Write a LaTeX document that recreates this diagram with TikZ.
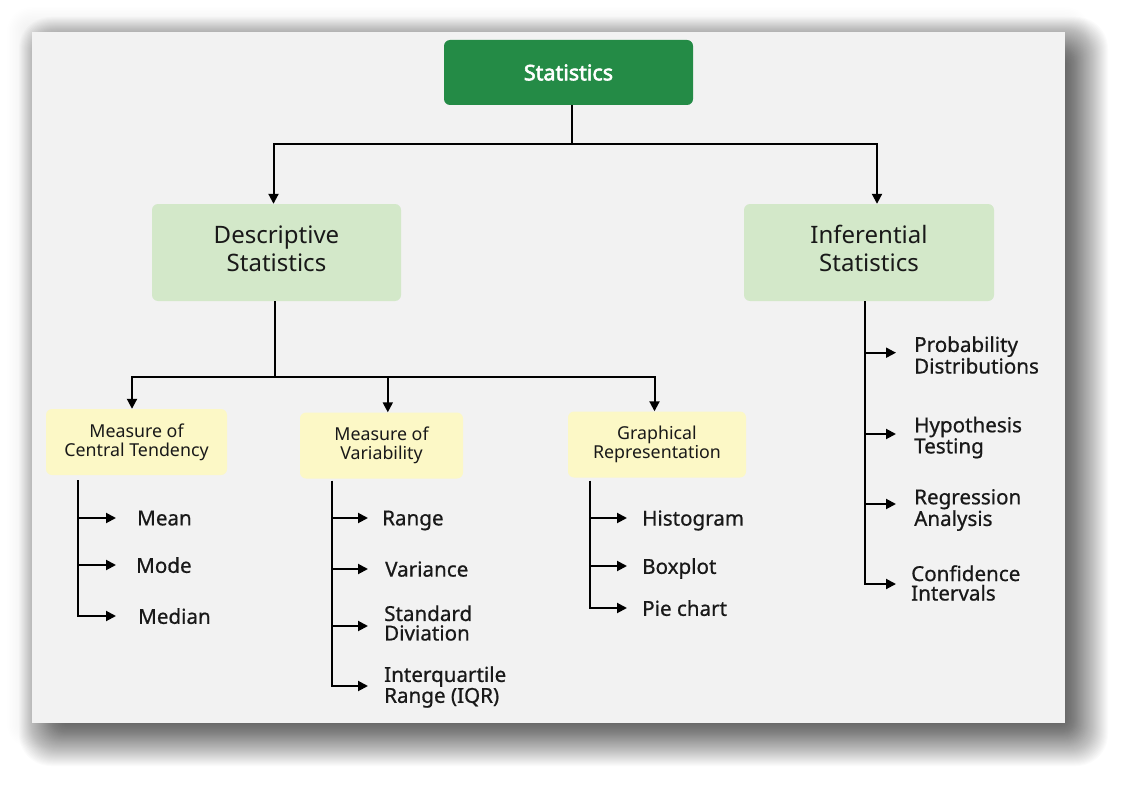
\documentclass[tikz,border=0pt]{standalone}
\usepackage{fontspec}
\setmainfont{Noto Sans}
\newfontfamily\medfont{Noto Sans}[FakeBold=0.7]
\newfontfamily\heavyfont{Noto Sans}[FakeBold=2.6]
\usetikzlibrary{arrows.meta,calc}
\definecolor{dgreen}{RGB}{36,139,70}
\definecolor{lgreen}{RGB}{211,232,201}
\definecolor{pyellow}{RGB}{252,248,198}
\definecolor{panelbg}{RGB}{242,242,242}
\definecolor{txt}{RGB}{25,25,25}
\newcommand\lowstrut[1]{\rule[-#1]{0pt}{#1}}
\tikzset{
  rootbox/.style={fill=dgreen, rounded corners=6pt, minimum width=249pt, minimum height=65pt, inner sep=0pt, text=white, font=\heavyfont\fontsize{21.5}{24}\selectfont},
  catbox/.style={fill=lgreen, rounded corners=6pt, minimum width=249pt, minimum height=97pt, inner sep=0pt, align=center, text=txt, font=\fontsize{24}{28.5}\selectfont},
  subbox/.style={fill=pyellow, rounded corners=6pt, minimum height=66pt, inner sep=0pt, align=center, text=txt, font=\fontsize{17.8}{19}\selectfont},
  leafone/.style={anchor=west, inner sep=0pt, text=txt, text depth=0pt, font=\medfont\fontsize{20.6}{19.5}\selectfont},
  leaftwo/.style={anchor=west, inner sep=0pt, align=left, text=txt, font=\medfont\fontsize{20.6}{19.5}\selectfont},
  conn/.style={line width=2pt, draw=black},
  arr/.style={conn, -{Triangle[length=10pt,width=10pt]}},
}
\begin{document}
\begin{tikzpicture}[x=1pt,y=-1pt]
\useasboundingbox (0,0) rectangle (1130,789);
\fill[white] (0,0) rectangle (1130,789);
% faint halo all round the panel
\foreach \r in {1,2.5,...,26} {
  \fill[black, opacity=0.005, rounded corners=\r pt] ({32-(\r)},{32-(\r)}) rectangle ({1065+(\r)},{723+(\r)});
}
% offset soft drop shadow
\foreach \r in {-25,-24,...,28} {
  \pgfmathsetmacro\rc{max(\r+25,1)*0.6}
  \fill[black, opacity=0.017, rounded corners=\rc pt] ({47-(\r)},{45-(\r)}) rectangle ({1080+(\r)},{738+(\r)});
}
\fill[panelbg] (32,32) rectangle (1065,723);

% boxes
\node[rootbox] (stat) at (568.5,72.5) {Statistics};
\node[catbox] (desc) at (276.5,252.5) {Descriptive\\Statistics\lowstrut{8pt}};
\node[catbox, minimum width=250pt] (inf) at (869,252.5) {Inferential\\Statistics\lowstrut{8pt}};
\node[subbox, minimum width=181pt] (mct) at (136.5,442) {Measure of\\Central Tendency};
\node[subbox, minimum width=163pt] (var) at (381.5,445.5) {Measure of\\Variability};
\node[subbox, minimum width=178pt] (gra) at (657,444.5) {Graphical\\Representation};

% leaves
\node[leafone] (mean) at (137,518) {Mean};
\node[leafone] (mode) at (136,565) {Mode};
\node[leafone] (median) at (138,616) {Median};

\node[leafone] (range) at (382,518) {Range};
\node[leafone] (variance) at (385,569) {Variance};
\node[leaftwo] (sd) at (384,623) {Standard\\Diviation};
\node[leaftwo] (iqr) at (384,687) {Interquartile\\Range (IQR)};

\node[leafone] (hist) at (642,518) {Histogram};
\node[leafone] (box) at (642,566) {Boxplot};
\node[leafone] (pie) at (642,608) {Pie chart};

\node[leaftwo] (prob) at (914,355) {Probability\\Distributions};
\node[leaftwo] (hyp) at (914,437.5) {Hypothesis\\Testing};
\node[leaftwo] (reg) at (914,510) {Regression\\Analysis};
\node[leaftwo] (conf) at (911,583) {Confidence\\Intervals};

% top level connectors
\coordinate (j1) at (572,144);
\draw[conn] (stat.south -| j1) -- (j1);
\draw[arr] (j1) -| ([xshift=-3pt]desc.north);
\draw[arr] (j1) -| ([xshift=8pt]inf.north);

% descriptive connectors
\coordinate (j2) at (275,377);
\draw[conn] (desc.south -| j2) -- (j2);
\draw[arr] (j2) -| ([xshift=-4.5pt]mct.north);
\draw[arr] (j2) -| ([xshift=6.3pt]var.north);
\draw[arr] (j2) -| ([xshift=-2.5pt]gra.north);

% central tendency
\coordinate (s1) at (78,0);
\coordinate (t1) at (116,0);
\draw[arr] (mean.west -| s1) -- (mean.west -| t1);
\draw[arr] (mode.west -| s1) -- (mode.west -| t1);
\draw[arr] ([yshift=-5pt]mct.south -| s1) |- (median.west -| t1);

% variability
\coordinate (s2) at (332,0);
\coordinate (t2) at (368,0);
\draw[arr] (range.west -| s2) -- (range.west -| t2);
\draw[arr] (variance.west -| s2) -- (variance.west -| t2);
\draw[arr] ([yshift=-3pt]sd.west -| s2) -- ([yshift=-3pt]sd.west -| t2);
\draw[arr] ([yshift=-2pt]var.south -| s2) |- ([yshift=1pt]iqr.west -| t2);

% graphical
\coordinate (s3) at (590,0);
\coordinate (t3) at (627,0);
\draw[arr] (hist.west -| s3) -- (hist.west -| t3);
\draw[arr] (box.west -| s3) -- (box.west -| t3);
\draw[arr] ([yshift=-3pt]gra.south -| s3) |- (pie.west -| t3);

% inferential
\coordinate (s4) at (865,0);
\coordinate (t4) at (896,0);
\draw[arr] ([yshift=2.3pt]prob.west -| s4) -- ([yshift=2.3pt]prob.west -| t4);
\draw[arr] ([yshift=3.5pt]hyp.west -| s4) -- ([yshift=3.5pt]hyp.west -| t4);
\draw[arr] ([yshift=6pt]reg.west -| s4) -- ([yshift=6pt]reg.west -| t4);
\draw[arr] (inf.south -| s4) |- ([yshift=-1pt]conf.west -| t4);
\end{tikzpicture}
\end{document}
